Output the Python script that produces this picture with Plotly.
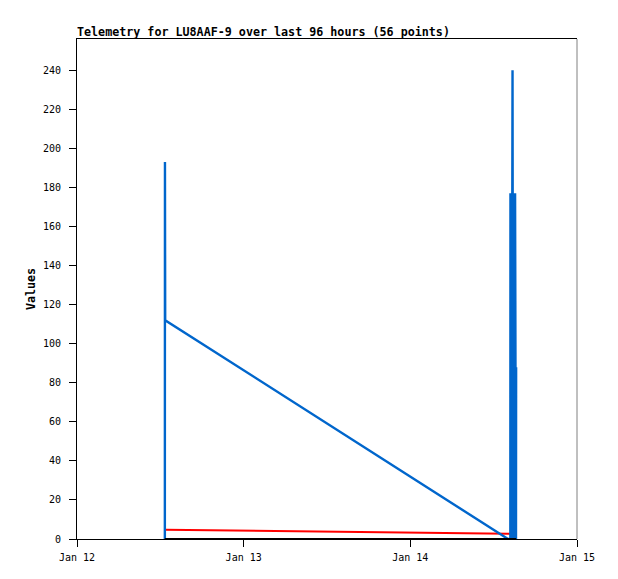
import plotly.graph_objects as go

# ---- data ----
times = [
    "2025-01-12 12:39", "2025-01-12 12:40", "2025-01-12 12:41", "2025-01-12 12:42",
    "2025-01-14 14:04",
    "2025-01-14 14:24", "2025-01-14 14:25", "2025-01-14 14:26", "2025-01-14 14:27",
    "2025-01-14 14:28", "2025-01-14 14:29", "2025-01-14 14:30", "2025-01-14 14:31",
    "2025-01-14 14:32", "2025-01-14 14:33", "2025-01-14 14:34", "2025-01-14 14:35",
    "2025-01-14 14:36", "2025-01-14 14:37", "2025-01-14 14:38", "2025-01-14 14:39",
    "2025-01-14 14:40", "2025-01-14 14:41", "2025-01-14 14:42", "2025-01-14 14:43",
    "2025-01-14 14:44", "2025-01-14 14:45", "2025-01-14 14:46", "2025-01-14 14:47",
    "2025-01-14 14:48", "2025-01-14 14:49", "2025-01-14 14:50", "2025-01-14 14:51",
    "2025-01-14 14:52", "2025-01-14 14:53", "2025-01-14 14:54", "2025-01-14 14:55",
    "2025-01-14 14:56", "2025-01-14 14:57", "2025-01-14 14:58", "2025-01-14 14:59",
    "2025-01-14 15:00", "2025-01-14 15:01", "2025-01-14 15:02", "2025-01-14 15:03",
    "2025-01-14 15:04", "2025-01-14 15:05", "2025-01-14 15:06", "2025-01-14 15:07",
    "2025-01-14 15:08", "2025-01-14 15:09", "2025-01-14 15:10", "2025-01-14 15:11",
    "2025-01-14 15:12", "2025-01-14 15:13", "2025-01-14 15:14",
]
blue_values = [
    0, 193, 0, 112,
    0,
    0, 177, 0, 177,
    0, 177, 0, 177,
    0, 177, 0, 177,
    0, 177, 0, 177,
    0, 177, 0, 240,
    0, 177, 0, 177,
    0, 177, 0, 177,
    0, 177, 0, 177,
    0, 177, 0, 177,
    0, 177, 0, 177,
    0, 177, 0, 177,
    0, 177, 0, 177,
    0, 0, 88, 0,
]
red_values = [
    4.7, 4.7, 4.7, 4.7,
    2.7,
    2.7, 2.7, 2.7, 2.7, 2.7, 2.7, 2.7, 2.7, 2.7, 2.7, 2.7, 2.7,
    2.7, 2.7, 2.7, 2.7, 2.7, 2.7, 2.7, 2.7, 2.7, 2.7, 2.7, 2.7,
    2.7, 2.7, 2.7, 2.7, 2.7, 2.7, 2.7, 2.7, 2.7, 2.7, 2.7, 2.7,
    2.7, 2.7, 2.7, 2.7, 2.7, 2.7, 2.7, 2.7, 2.7, 2.7, 2.7, 2.7,
    2.7, 2.7, 2.7,
]
black_values = [0] * len(times)

x_ticks = ["2025-01-12", "2025-01-13", "2025-01-14", "2025-01-15"]
x_ticktext = ["Jan 12", "Jan 13", "Jan 14", "Jan 15"]
title_text = "Telemetry for LU8AAF-9 over last 96 hours (56 points)"

FONT = "DejaVu Sans Mono"

fig = go.Figure()
fig.add_trace(go.Scatter(x=times, y=red_values, mode="lines",
                         line=dict(color="#ff0000", width=2), showlegend=False))
fig.add_trace(go.Scatter(x=times, y=blue_values, mode="lines",
                         line=dict(color="#0066cc", width=2.4), showlegend=False))
fig.add_trace(go.Scatter(x=times, y=black_values, mode="lines",
                         line=dict(color="#000000", width=2), showlegend=False,
                         cliponaxis=False))

W, H = 610, 571
fig.update_layout(
    width=W, height=H,
    margin=dict(l=69, r=41, t=31, b=40),
    paper_bgcolor="white", plot_bgcolor="white",
    font=dict(family=FONT, size=10, color="black"),
    title=dict(text="<b>" + title_text + "</b>", x=0, xref="paper", xanchor="left",
               y=1 - 24 / H, yanchor="middle",
               font=dict(family=FONT, size=11.7, color="black")),
    xaxis=dict(range=["2025-01-12", "2025-01-15"], tickvals=x_ticks, ticktext=x_ticktext,
               showgrid=False, zeroline=False, showline=True, linecolor="black", linewidth=1,
               mirror=True, ticks="outside", ticklen=7, tickcolor="black",
               ticklabelstandoff=2,
               tickfont=dict(family=FONT, size=10, color="black")),
    yaxis=dict(range=[0, 256], dtick=20, tick0=0,
               showgrid=False, zeroline=False, showline=True, linecolor="black", linewidth=1,
               mirror=False, ticks="outside", ticklen=7, tickcolor="black",
               ticklabelstandoff=6,
               tickfont=dict(family=FONT, size=10, color="black"),
               title=dict(text="<b>Values</b>", standoff=4,
                          font=dict(family=FONT, size=11.7, color="black"))),
)
# right border in gray
fig.add_shape(type="line", xref="paper", yref="paper", x0=1, x1=1, y0=0, y1=1,
              line=dict(color="#808080", width=1))

fig.write_html("out.html")
